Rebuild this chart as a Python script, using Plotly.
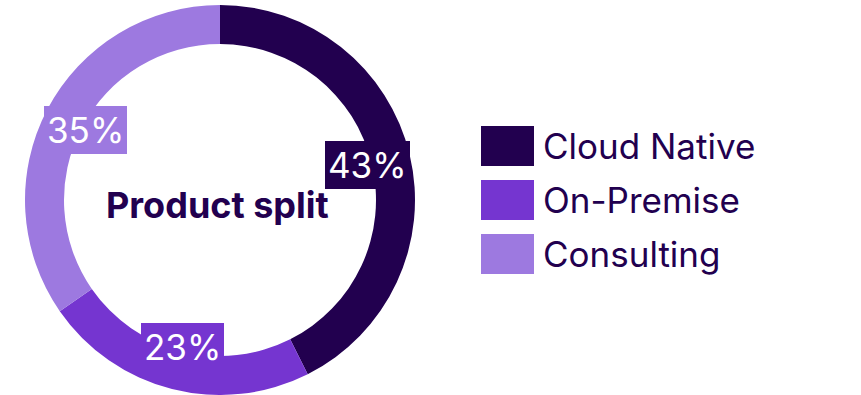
import math
import plotly.graph_objects as go

categories = ["Cloud Native", "On-Premise", "Consulting"]
values = [43, 23, 35]
colors = ["#22004f", "#7535d0", "#9d79e0"]
center_title = "Product split"
text_color = "#22004f"

W, H = 861, 395
cx, cy, R = 220, 200, 195
label_r = 152
FONT = "Inter"

fig = go.Figure()
fig.add_trace(go.Pie(
    labels=categories, values=values, hole=0.8, sort=False, direction="clockwise",
    rotation=0, marker=dict(colors=colors, line=dict(width=0)), textinfo="none",
    hoverinfo="label+percent", showlegend=False,
    domain=dict(x=[(cx - R) / W, (cx + R) / W], y=[1 - (cy + R) / H, 1 - (cy - R) / H]),
))

total = sum(values)
cum = 0
for v, c in zip(values, colors):
    mid = (cum + v / 2) / total * 2 * math.pi
    cum += v
    px = cx + label_r * math.sin(mid)
    py = cy - label_r * math.cos(mid)
    fig.add_annotation(x=px / W, y=1 - py / H, xref="paper", yref="paper",
                       xanchor="center", yanchor="middle",
                       text=f"{round(v / total * 100)}%", showarrow=False,
                       font=dict(family=FONT, size=35, color="white"),
                       bgcolor=c, borderpad=3, borderwidth=0)

fig.add_annotation(x=218 / W, y=1 - 205 / H, xref="paper", yref="paper", text=f"<b>{center_title}</b>",
                   xanchor="center", yanchor="middle",
                   showarrow=False, font=dict(family=FONT, size=36, color=text_color))

# custom legend
lx0, lx1, row0, step, bh = 481, 534, 146, 54, 40
for i, (name, c) in enumerate(zip(categories, colors)):
    yc = row0 + i * step
    fig.add_shape(type="rect", xref="paper", yref="paper",
                  x0=lx0 / W, x1=lx1 / W, y0=1 - (yc + bh / 2) / H, y1=1 - (yc - bh / 2) / H,
                  fillcolor=c, line=dict(width=0))
    fig.add_annotation(x=541 / W, y=1 - yc / H, xref="paper", yref="paper", text=name,
                       xanchor="left", yanchor="middle", showarrow=False,
                       font=dict(family=FONT, size=35, color=text_color))

fig.update_layout(width=W, height=H, margin=dict(l=0, r=0, t=0, b=0),
                  paper_bgcolor="white", plot_bgcolor="white")
fig.write_html("out.html")
